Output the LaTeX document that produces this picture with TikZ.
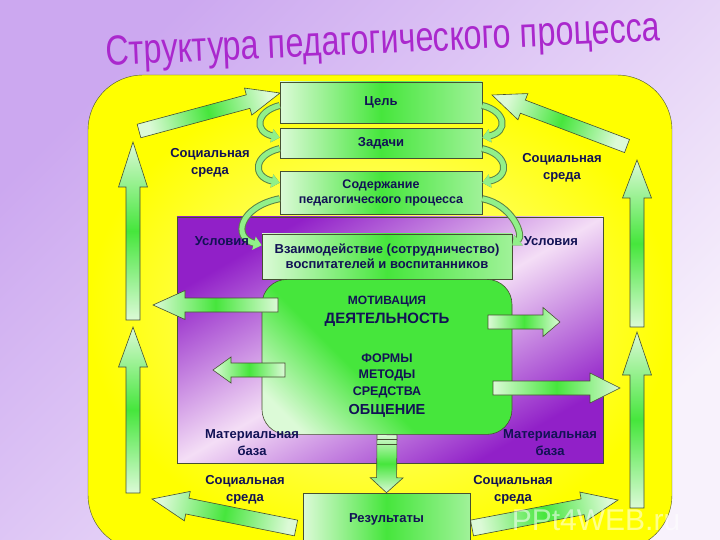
\documentclass[tikz,border=0pt]{standalone}
\usepackage{fontspec}
\setmainfont{Liberation Sans}
\usetikzlibrary{positioning,calc,arrows.meta}

\definecolor{bgleft}{RGB}{204,168,240}
\definecolor{bgright}{RGB}{248,242,252}
\definecolor{fieldyellow}{RGB}{255,255,0}
\definecolor{paleyellow}{RGB}{255,255,170}
\definecolor{deeppurple}{RGB}{145,32,200}
\definecolor{lightpurple}{RGB}{244,222,246}
\definecolor{brightgreen}{RGB}{70,230,60}
\definecolor{palegreen}{RGB}{220,250,215}
\definecolor{curldark}{RGB}{90,130,70}
\definecolor{edgeline}{RGB}{70,80,50}
\definecolor{inknavy}{RGB}{18,18,85}
\definecolor{titlepurple}{RGB}{170,40,205}

\pgfdeclareverticalshading{purpleband}{100bp}{color(0bp)=(deeppurple);
  color(33bp)=(deeppurple); color(50bp)=(lightpurple); color(67bp)=(deeppurple);
  color(100bp)=(deeppurple)}
\pgfdeclareverticalshading{coreshade}{100bp}{color(0bp)=(palegreen);
  color(22bp)=(palegreen); color(42bp)=(brightgreen); color(100bp)=(brightgreen)}

\tikzset{
  blockarrow/.style={draw=edgeline, line width=0.6pt, top color=palegreen,
    bottom color=palegreen, middle color=brightgreen},
  stepbox/.style={draw=edgeline, line width=0.6pt, left color=palegreen,
    right color=palegreen!60!brightgreen, middle color=brightgreen,
    inner sep=2pt, text=inknavy, align=center,
    font=\bfseries\fontsize{13}{15}\selectfont},
  curl/.style={line width=5pt, draw=palegreen!50!brightgreen,
    -{Triangle[length=8pt,width=13pt]},
    preaction={draw=curldark, line width=7pt}},
  caption/.style={font=\bfseries\fontsize{13}{17}\selectfont, text=inknavy,
    align=center}
}

% block arrow: shading angle, tail, tip, half shaft, half head, head length
\newcommand{\blockarr}[6]{%
  \coordinate (ba-base) at ($(#3)!#6!(#2)$);
  \path[blockarrow, shading angle=#1]
    ($(#2)!#4!90:(#3)$) -- ($(ba-base)!#4!-90:(#2)$)
    -- ($(ba-base)!#5!-90:(#2)$) -- (#3)
    -- ($(ba-base)!#5!90:(#2)$) -- ($(ba-base)!#4!90:(#2)$)
    -- ($(#2)!#4!-90:(#3)$) -- cycle;}

\begin{document}
\begin{tikzpicture}[x=1pt,y=-1pt]
\useasboundingbox (0,0) rectangle (720,540);
\clip (0,0) rectangle (720,540);

% background and title
\shade[top color=bgleft, bottom color=bgright, shading angle=45] (0,0) rectangle (720,540);
\node[text=titlepurple, font=\fontsize{42}{42}\selectfont, rotate=2.5, xscale=0.77,
  transform shape] (title) at (383,43) {Структура педагогического процесса};

% yellow field and purple frame
\path[draw=edgeline, inner color=paleyellow, outer color=fieldyellow,
  rounded corners=55pt] (88,75) rectangle (672,550);
\begin{scope}
  \clip (177,217) rectangle (603,463);
  \shade[shading=purpleband, shading angle=30] (170,120) rectangle (610,560);
\end{scope}
\draw[edgeline, line width=0.6pt] (177,217) rectangle (603,463);

% outer arrows
\blockarr{0}{133,320}{133,142}{7pt}{14.5pt}{45pt}
\blockarr{0}{133,493}{133,327}{7pt}{14.5pt}{40pt}
\blockarr{0}{637,327}{637,160}{7pt}{14.5pt}{38pt}
\blockarr{0}{637,508}{637,332}{7pt}{14.5pt}{43pt}
\blockarr{-75}{139,131}{280,93}{7pt}{14pt}{33pt}
\blockarr{70}{627,146}{492,95}{7pt}{14pt}{33pt}
\blockarr{79}{296,528}{152,499}{8pt}{15pt}{36pt}
\blockarr{-79}{472,528}{618,500}{8pt}{15pt}{36pt}

% steps
\node[stepbox, minimum width=202pt, minimum height=41pt] (tsel) at (381,102.5) {Цель};
\node[stepbox, minimum width=202pt, minimum height=30pt, below=5pt of tsel] (zad) {Задачи};
\node[stepbox, minimum width=202pt, minimum height=43pt, below=12pt of zad,
  font=\bfseries\fontsize{12.5}{15}\selectfont] (sod) {Содержание\\педагогического процесса};
\node[stepbox, minimum width=250pt, minimum height=45pt, below=19pt of sod, xshift=6pt]
  (vzaim) {Взаимодействие (сотрудничество)\\воспитателей и воспитанников};

\draw[curl] ([yshift=-3pt]tsel.west) .. controls +(-24,6) and +(-26,-6) .. ([yshift=6pt]zad.west);
\draw[curl] ([yshift=-5pt]zad.west) .. controls +(-26,6) and +(-28,-6) .. ([yshift=10pt]sod.west);
\draw[curl] ([yshift=-6pt]sod.west) .. controls +(-40,8) and +(-30,-8) .. ([yshift=11pt]vzaim.west);
\draw[curl] ([yshift=-3pt]tsel.east) .. controls +(24,6) and +(26,-6) .. ([yshift=6pt]zad.east);
\draw[curl] ([yshift=-5pt]zad.east) .. controls +(26,6) and +(28,-6) .. ([yshift=10pt]sod.east);
\draw[curl] ([yshift=-6pt]sod.east) .. controls +(30,6) and +(12,-10) .. ([yshift=11pt]vzaim.east);

% core
\node[draw=edgeline, line width=0.6pt, rounded corners=25pt, minimum width=250pt,
  minimum height=155pt, shading=coreshade, shading angle=-45, below=0pt of vzaim] (core) {};
\blockarr{90}{278,305}{153,305}{7pt}{14.5pt}{32pt}
\blockarr{90}{285,370}{213,370}{7pt}{13pt}{18pt}
\blockarr{90}{488,322}{560,322}{7pt}{14.5pt}{17pt}
\blockarr{90}{493,388}{620,388}{7pt}{15pt}{30pt}

\node[stepbox, minimum width=167pt, minimum height=52pt] (res) at (386.5,519) {Результаты};
\blockarr{0}{core.south}{res.north}{10pt}{16.5pt}{15pt}
\draw[edgeline] ([xshift=-10pt,yshift=-4pt]core.south) -- ([xshift=10pt,yshift=-4pt]core.south);
\draw[edgeline] ([xshift=-10pt,yshift=-9pt]core.south) -- ([xshift=10pt,yshift=-9pt]core.south);

% labels
\node[caption] (socnw) at (210,163) {Социальная\\среда};
\node[caption] (socne) at (562,168) {Социальная\\среда};
\node[caption] (socsw) at (245,490) {Социальная\\среда};
\node[caption] (socse) at (513,490) {Социальная\\среда};
\node[caption] (uslw) at (222,241) {Условия};
\node[caption] (usle) at (551,241) {Условия};
\node[caption] (basew) at (252,443) {Материальная\\база};
\node[caption] (basee) at (550,443) {Материальная\\база};

\node[caption, font=\bfseries\fontsize{12}{14}\selectfont] (motiv) at (387,302) {МОТИВАЦИЯ};
\node[caption, font=\bfseries\fontsize{15}{17}\selectfont] (deyat) at (387,320) {ДЕЯТЕЛЬНОСТЬ};
\node[caption, font=\bfseries\fontsize{12.5}{14}\selectfont] (formy) at (387,358) {ФОРМЫ};
\node[caption, font=\bfseries\fontsize{12.5}{14}\selectfont] (metody) at (387,375) {МЕТОДЫ};
\node[caption, font=\bfseries\fontsize{12.5}{14}\selectfont] (sredstva) at (387,392) {СРЕДСТВА};
\node[caption, font=\bfseries\fontsize{14.5}{16}\selectfont] (obsch) at (387,411) {ОБЩЕНИЕ};

\node[text=white, opacity=0.55, inner sep=0pt, font=\fontsize{30}{30}\selectfont]
  (mark) at (596,520) {PPt4WEB.ru};
\end{tikzpicture}
\end{document}
